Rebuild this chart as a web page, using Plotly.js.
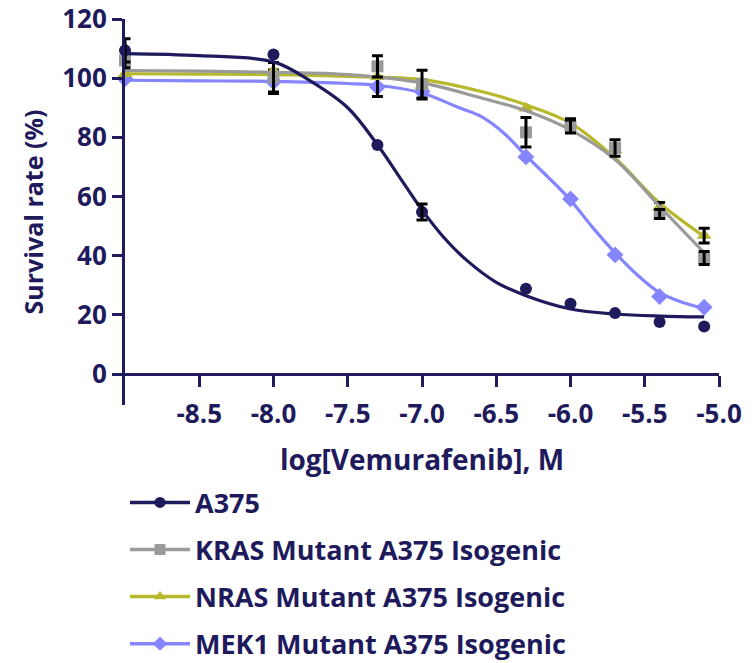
<!DOCTYPE html>
<html>
<head>
<meta charset="utf-8">
<script src="https://cdn.plot.ly/plotly-3.0.1.min.js"></script>
<style>html,body{margin:0;padding:0;background:#fff;}#chart{width:755px;height:663px;}</style>
</head>
<body>
<div id="chart"></div>
<script>
// ---- data ----
const xPoints = [-9.0, -8.0, -7.3, -7.0, -6.3, -6.0, -5.7, -5.4, -5.1];

const seriesNames = ['A375', 'KRAS Mutant A375 Isogenic', 'NRAS Mutant A375 Isogenic', 'MEK1 Mutant A375 Isogenic'];

const a375Values = [109.4, 108.0, 77.4, 54.8, 28.8, 23.8, 20.6, 17.6, 16.1];
const a375Errors = [3.9, 0, 0, 2.7, 0, 0, 0, 0, 0];
const krasValues = [106.0, 100.3, 104.0, 98.0, 81.7, 83.7, 76.4, 54.1, 39.2];
const krasErrors = [2.5, 5.0, 3.6, 4.7, 5.0, 2.2, 2.8, 1.5, 2.2];
const nrasValues = [101.5, 102.5, 100.5, 97.5, 89.8, 84.8, 75.8, 56.5, 46.8];
const nrasErrors = [0, 0, 0, 0, 0, 1.5, 0, 1.5, 2.5];
const mek1Values = [99.8, 98.8, 97.0, 95.5, 73.4, 59.2, 40.3, 26.2, 22.6];
const mek1Errors = [0, 4.0, 3.2, 2.5, 0, 0, 0, 0, 0];

// fitted curves
const a375CurveX = [-9.0, -8.5, -8.0, -7.75, -7.5, -7.3, -7.15, -7.0, -6.85, -6.7, -6.5, -6.3, -6.0, -5.7, -5.4, -5.1];
const a375CurveY = [108.3, 107.6, 105.5, 99.0, 90.0, 77.5, 66.5, 55.5, 46.0, 38.5, 31.0, 26.5, 22.0, 20.3, 19.6, 19.3];
const krasCurveX = [-9.0, -8.5, -8.0, -7.5, -7.0, -6.6, -6.3, -6.0, -5.7, -5.4, -5.1];
const krasCurveY = [102.6, 102.4, 102.0, 101.2, 98.4, 93.3, 89.0, 82.5, 72.5, 56.7, 41.0];
const nrasCurveX = [-9.0, -8.5, -8.0, -7.5, -7.0, -6.6, -6.3, -6.0, -5.7, -5.4, -5.1];
const nrasCurveY = [101.5, 101.4, 101.2, 100.6, 99.5, 95.5, 91.0, 84.8, 73.0, 57.8, 46.5];
const mek1CurveX = [-9.0, -8.5, -8.0, -7.5, -7.3, -7.0, -6.75, -6.6, -6.45, -6.3, -6.15, -6.0, -5.85, -5.7, -5.55, -5.4, -5.25, -5.1];
const mek1CurveY = [99.3, 99.1, 98.9, 98.2, 97.6, 95.0, 90.0, 87.0, 81.5, 73.8, 66.5, 58.8, 49.5, 41.0, 33.5, 27.5, 24.3, 22.2];

const xTickVals = [-8.5, -8.0, -7.5, -7.0, -6.5, -6.0, -5.5, -5.0];
const xTickText = ['-8.5', '-8.0', '-7.5', '-7.0', '-6.5', '-6.0', '-5.5', '-5.0'];
const yTickVals = [0, 20, 40, 60, 80, 100, 120];
const yTickText = ['0', '20', '40', '60', '80', '100', '120'];

// ---- styles ----
const NAVY = '#1e1a5c';
const FONT = '"Open Sans", Lato, sans-serif';
const styles = [
  {color: NAVY, symbol: 'circle', size: 12},
  {color: '#9a9a9a', symbol: 'square', size: 12},
  {color: '#b8b82c', symbol: 'triangle-up', size: 13},
  {color: '#8585ff', symbol: 'diamond', size: 13}
];

const series = [
  {v: a375Values, e: a375Errors, cx: a375CurveX, cy: a375CurveY},
  {v: krasValues, e: krasErrors, cx: krasCurveX, cy: krasCurveY},
  {v: nrasValues, e: nrasErrors, cx: nrasCurveX, cy: nrasCurveY},
  {v: mek1Values, e: mek1Errors, cx: mek1CurveX, cy: mek1CurveY}
];

const traces = [];
// legend-only entries (line + marker)
series.forEach((s, i) => {
  traces.push({
    x: [null], y: [null], type: 'scatter', mode: 'lines+markers', name: seriesNames[i],
    legendgroup: 'g' + i, showlegend: true,
    line: {color: styles[i].color, width: 3.5},
    marker: {color: styles[i].color, symbol: styles[i].symbol, size: 11},
    hoverinfo: 'skip'
  });
});

// drawing order bottom -> top: MEK1, NRAS, KRAS, A375
[3, 2, 1, 0].forEach(i => {
  const s = series[i], st = styles[i];
  traces.push({
    x: s.cx, y: s.cy, type: 'scatter', mode: 'lines', showlegend: false,
    line: {color: st.color, width: 3.2, shape: 'spline', smoothing: 1},
    cliponaxis: false, hoverinfo: 'skip'
  });
  traces.push({
    x: xPoints, y: s.v, type: 'scatter', mode: 'markers', showlegend: false,
    marker: {color: st.color, symbol: st.symbol, size: st.size, line: {width: 0}},
    cliponaxis: false
  });
  const idx = s.e.map((e, k) => e > 0 ? k : -1).filter(k => k >= 0);
  traces.push({
    x: idx.map(k => xPoints[k]), y: idx.map(k => s.v[k]), type: 'scatter', mode: 'markers',
    showlegend: false, marker: {color: 'rgba(0,0,0,0)', size: 1},
    error_y: {type: 'data', array: idx.map(k => s.e[k]), visible: true, color: '#000000', thickness: 3, width: 5.5},
    cliponaxis: false, hoverinfo: 'skip'
  });
});

const layout = {
  width: 755, height: 663,
  margin: {l: 125, r: 36, t: 19, b: 258, pad: 0},
  paper_bgcolor: '#ffffff', plot_bgcolor: '#ffffff',
  font: {family: FONT, color: NAVY, size: 25, weight: 700},
  showlegend: true,
  xaxis: {
    range: [-9, -5], tickvals: xTickVals, ticktext: xTickText,
    showgrid: false, zeroline: false, showline: true, linecolor: NAVY, linewidth: 3,
    ticks: 'outside', ticklen: 11, tickwidth: 3, tickcolor: NAVY,
    anchor: 'free', position: 10.45 / 130.45,
    tickfont: {family: FONT, size: 26, color: NAVY, weight: 700},
    ticklabelstandoff: 5,
    title: {text: 'log[Vemurafenib], M', font: {family: FONT, size: 28, color: NAVY, weight: 700}, standoff: 20}
  },
  yaxis: {
    range: [-10.45, 120], tickvals: yTickVals, ticktext: yTickText,
    showgrid: false, zeroline: false, showline: true, linecolor: NAVY, linewidth: 3,
    ticks: 'outside', ticklen: 10, tickwidth: 3, tickcolor: NAVY,
    tickfont: {family: FONT, size: 26, color: NAVY, weight: 700},
    title: {text: 'Survival rate (%)', font: {family: FONT, size: 25, color: NAVY, weight: 700}, standoff: 12}
  },
  legend: {
    x: 0, y: 0.2785, xanchor: 'left', yanchor: 'top', yref: 'container',
    font: {family: FONT, size: 27, color: NAVY, weight: 700},
    traceorder: 'grouped', tracegroupgap: 9, itemwidth: 60,
    bgcolor: 'rgba(0,0,0,0)', borderwidth: 0
  }
};

Plotly.newPlot('chart', traces, layout, {displayModeBar: false, staticPlot: true});
</script>
</body>
</html>
